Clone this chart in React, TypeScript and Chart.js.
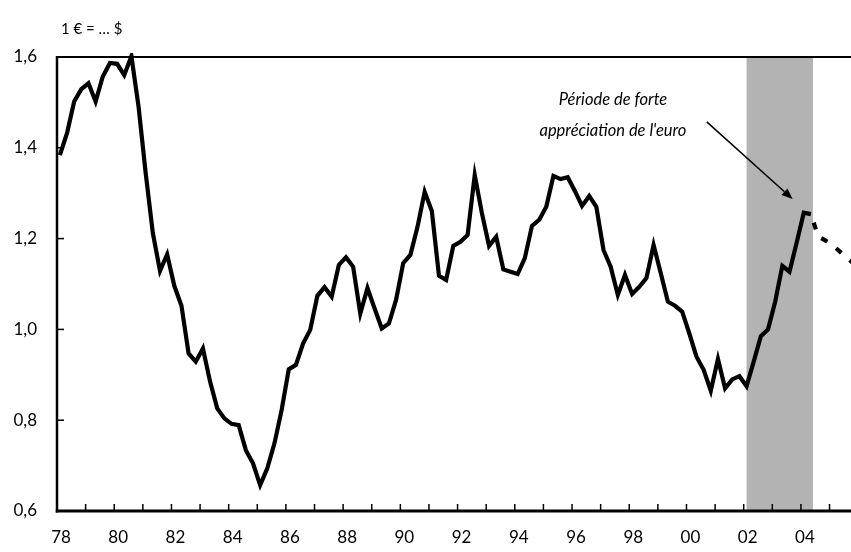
import React, { useEffect, useRef } from "react";
import { Chart, registerables } from "chart.js";

Chart.register(...registerables);

// ---- data ----
const startYear = 1978; // first quarter 1978
const quarterlyRate = [
  1.384, 1.432, 1.502, 1.529, 1.542, 1.502, 1.557, 1.587, 1.585, 1.56,
  1.602, 1.491, 1.344, 1.212, 1.129, 1.165, 1.096, 1.052, 0.947, 0.929,
  0.958, 0.885, 0.826, 0.804, 0.792, 0.789, 0.734, 0.705, 0.657, 0.694,
  0.749, 0.822, 0.912, 0.922, 0.969, 0.999, 1.074, 1.093, 1.072, 1.142,
  1.159, 1.138, 1.035, 1.091, 1.046, 1.002, 1.013, 1.065, 1.146, 1.164,
  1.226, 1.303, 1.261, 1.118, 1.109, 1.184, 1.193, 1.208, 1.34, 1.256,
  1.184, 1.204, 1.132, 1.127, 1.122, 1.157, 1.228, 1.241, 1.27, 1.338,
  1.331, 1.335, 1.305, 1.272, 1.294, 1.27, 1.175, 1.138, 1.076, 1.12,
  1.078, 1.094, 1.113, 1.186, 1.124, 1.061, 1.052, 1.039, 0.991, 0.94,
  0.911, 0.865, 0.935, 0.87, 0.89, 0.897, 0.875, 0.929, 0.985, 1.0,
  1.061, 1.14, 1.127, 1.191, 1.257, 1.254,
];
const forecastRate = [1.254, 1.205, 1.196, 1.186, 1.172, 1.158, 1.145];
const xTickYears = [1978, 1980, 1982, 1984, 1986, 1988, 1990, 1992, 1994, 1996, 1998, 2000, 2002, 2004];
const xTickLabels = ["78", "80", "82", "84", "86", "88", "90", "92", "94", "96", "98", "00", "02", "04"];
const yTicks = [0.6, 0.8, 1.0, 1.2, 1.4, 1.6];
const shadedPeriod = [2002.1, 2004.42];
const unitLabel = "1 € = … $";
const noteLines = ["Période de forte", "appréciation de l'euro"];
const notePos = { x: 1997.43, y1: 1.505, y2: 1.437 };
const arrowFrom = { x: 2000.71, y: 1.457 };
const arrowTo = { x: 2003.71, y: 1.287 };

const quarterX = (i: number) => startYear + 0.1 + i * 0.25;
const FONT = "Lato, 'Open Sans', sans-serif";

const decorPlugin = {
  id: "decor",
  beforeDatasetsDraw(chart: any) {
    const { ctx, chartArea, scales } = chart;
    const x1 = scales.x.getPixelForValue(shadedPeriod[0]);
    const x2 = scales.x.getPixelForValue(shadedPeriod[1]);
    ctx.save();
    ctx.fillStyle = "#b3b3b3";
    ctx.fillRect(x1, chartArea.top, x2 - x1, chartArea.bottom - chartArea.top);
    ctx.restore();
  },
  afterDatasetsDraw(chart: any) {
    const { ctx, chartArea, scales } = chart;
    const { left, right, top, bottom } = chartArea;
    ctx.save();
    ctx.strokeStyle = "#000";
    ctx.lineCap = "butt";
    // top line
    ctx.lineWidth = 2;
    ctx.beginPath();
    ctx.moveTo(left, top);
    ctx.lineTo(right, top);
    ctx.stroke();
    // left axis
    ctx.lineWidth = 2.5;
    ctx.beginPath();
    ctx.moveTo(left, top - 1);
    ctx.lineTo(left, bottom + 1.5);
    ctx.stroke();
    // bottom axis
    ctx.lineWidth = 3;
    ctx.beginPath();
    ctx.moveTo(left - 1.2, bottom);
    ctx.lineTo(right, bottom);
    ctx.stroke();
    // y ticks
    ctx.lineWidth = 1.5;
    yTicks.forEach((v) => {
      const y = scales.y.getPixelForValue(v);
      ctx.beginPath();
      ctx.moveTo(left, y);
      ctx.lineTo(left + 7, y);
      ctx.stroke();
    });
    // x ticks every year
    for (let yr = startYear + 1; yr <= 2005; yr++) {
      const x = scales.x.getPixelForValue(yr);
      ctx.beginPath();
      ctx.moveTo(x, bottom);
      ctx.lineTo(x, bottom - 7);
      ctx.stroke();
    }
    // arrow
    const ax1 = scales.x.getPixelForValue(arrowFrom.x);
    const ay1 = scales.y.getPixelForValue(arrowFrom.y);
    const ax2 = scales.x.getPixelForValue(arrowTo.x);
    const ay2 = scales.y.getPixelForValue(arrowTo.y);
    const ang = Math.atan2(ay2 - ay1, ax2 - ax1);
    const hl = 11, hw = 4.5;
    const bx = ax2 - hl * Math.cos(ang);
    const by = ay2 - hl * Math.sin(ang);
    ctx.lineWidth = 1.5;
    ctx.beginPath();
    ctx.moveTo(ax1, ay1);
    ctx.lineTo(bx, by);
    ctx.stroke();
    ctx.fillStyle = "#000";
    ctx.beginPath();
    ctx.moveTo(ax2, ay2);
    ctx.lineTo(bx + hw * Math.sin(ang), by - hw * Math.cos(ang));
    ctx.lineTo(bx - hw * Math.sin(ang), by + hw * Math.cos(ang));
    ctx.closePath();
    ctx.fill();
    // annotation text
    ctx.font = `italic 16.5px ${FONT}`;
    ctx.textAlign = "center";
    ctx.textBaseline = "middle";
    const tx = scales.x.getPixelForValue(notePos.x);
    ctx.fillText(noteLines[0], tx, scales.y.getPixelForValue(notePos.y1));
    ctx.fillText(noteLines[1], tx, scales.y.getPixelForValue(notePos.y2));
    // unit label
    ctx.font = `15px ${FONT}`;
    ctx.textAlign = "left";
    ctx.fillText(unitLabel, left + 4, 29);
    ctx.restore();
  },
};

export default function App() {
  const ref = useRef<HTMLCanvasElement | null>(null);
  useEffect(() => {
    document.body.style.margin = "0";
    const canvas = ref.current;
    if (!canvas) return;
    const chart = new Chart(canvas, {
      type: "line",
      data: {
        datasets: [
          {
            data: quarterlyRate.map((v, i) => ({ x: quarterX(i), y: v })),
            borderColor: "#000",
            borderWidth: 4.2,
            pointRadius: 0,
            tension: 0,
            borderJoinStyle: "miter",
            clip: 4,
          },
          {
            data: forecastRate.map((v, i) => ({ x: quarterX(quarterlyRate.length - 1 + i), y: v })),
            borderColor: "#000",
            borderWidth: 4.2,
            pointRadius: 0,
            tension: 0,
            borderDash: [7, 11],
            borderDashOffset: 9,
          },
        ],
      },
      options: {
        animation: false,
        responsive: true,
        maintainAspectRatio: false,
        layout: { padding: { top: 57, right: 0, left: 0, bottom: 0 } },
        plugins: { legend: { display: false }, tooltip: { enabled: false }, title: { display: false } },
        scales: {
          x: {
            type: "linear",
            min: 1978,
            max: 2005.75,
            grid: { display: false },
            border: { display: false },
            afterBuildTicks: (scale: any) => {
              scale.ticks = xTickYears.map((y) => ({ value: y + 0.14 }));
            },
            afterFit: (scale: any) => {
              scale.height = 41;
            },
            ticks: {
              autoSkip: false,
              maxRotation: 0,
              padding: 8,
              color: "#000",
              font: { family: FONT, size: 17 },
              callback: (_v: any, i: number) => xTickLabels[i],
            },
          },
          y: {
            min: 0.6,
            max: 1.6,
            grid: { display: false },
            border: { display: false },
            afterBuildTicks: (scale: any) => {
              scale.ticks = yTicks.map((v) => ({ value: v }));
            },
            afterFit: (scale: any) => {
              scale.width = 57;
            },
            ticks: {
              padding: 12,
              color: "#000",
              font: { family: FONT, size: 17 },
              callback: (v: any) => Number(v).toFixed(1).replace(".", ","),
            },
          },
        },
      },
      plugins: [decorPlugin],
    } as any);
    return () => chart.destroy();
  }, []);
  return (
    <div style={{ position: "absolute", left: 0, top: 0, width: 851, height: 552 }}>
      <canvas ref={ref} />
    </div>
  );
}
